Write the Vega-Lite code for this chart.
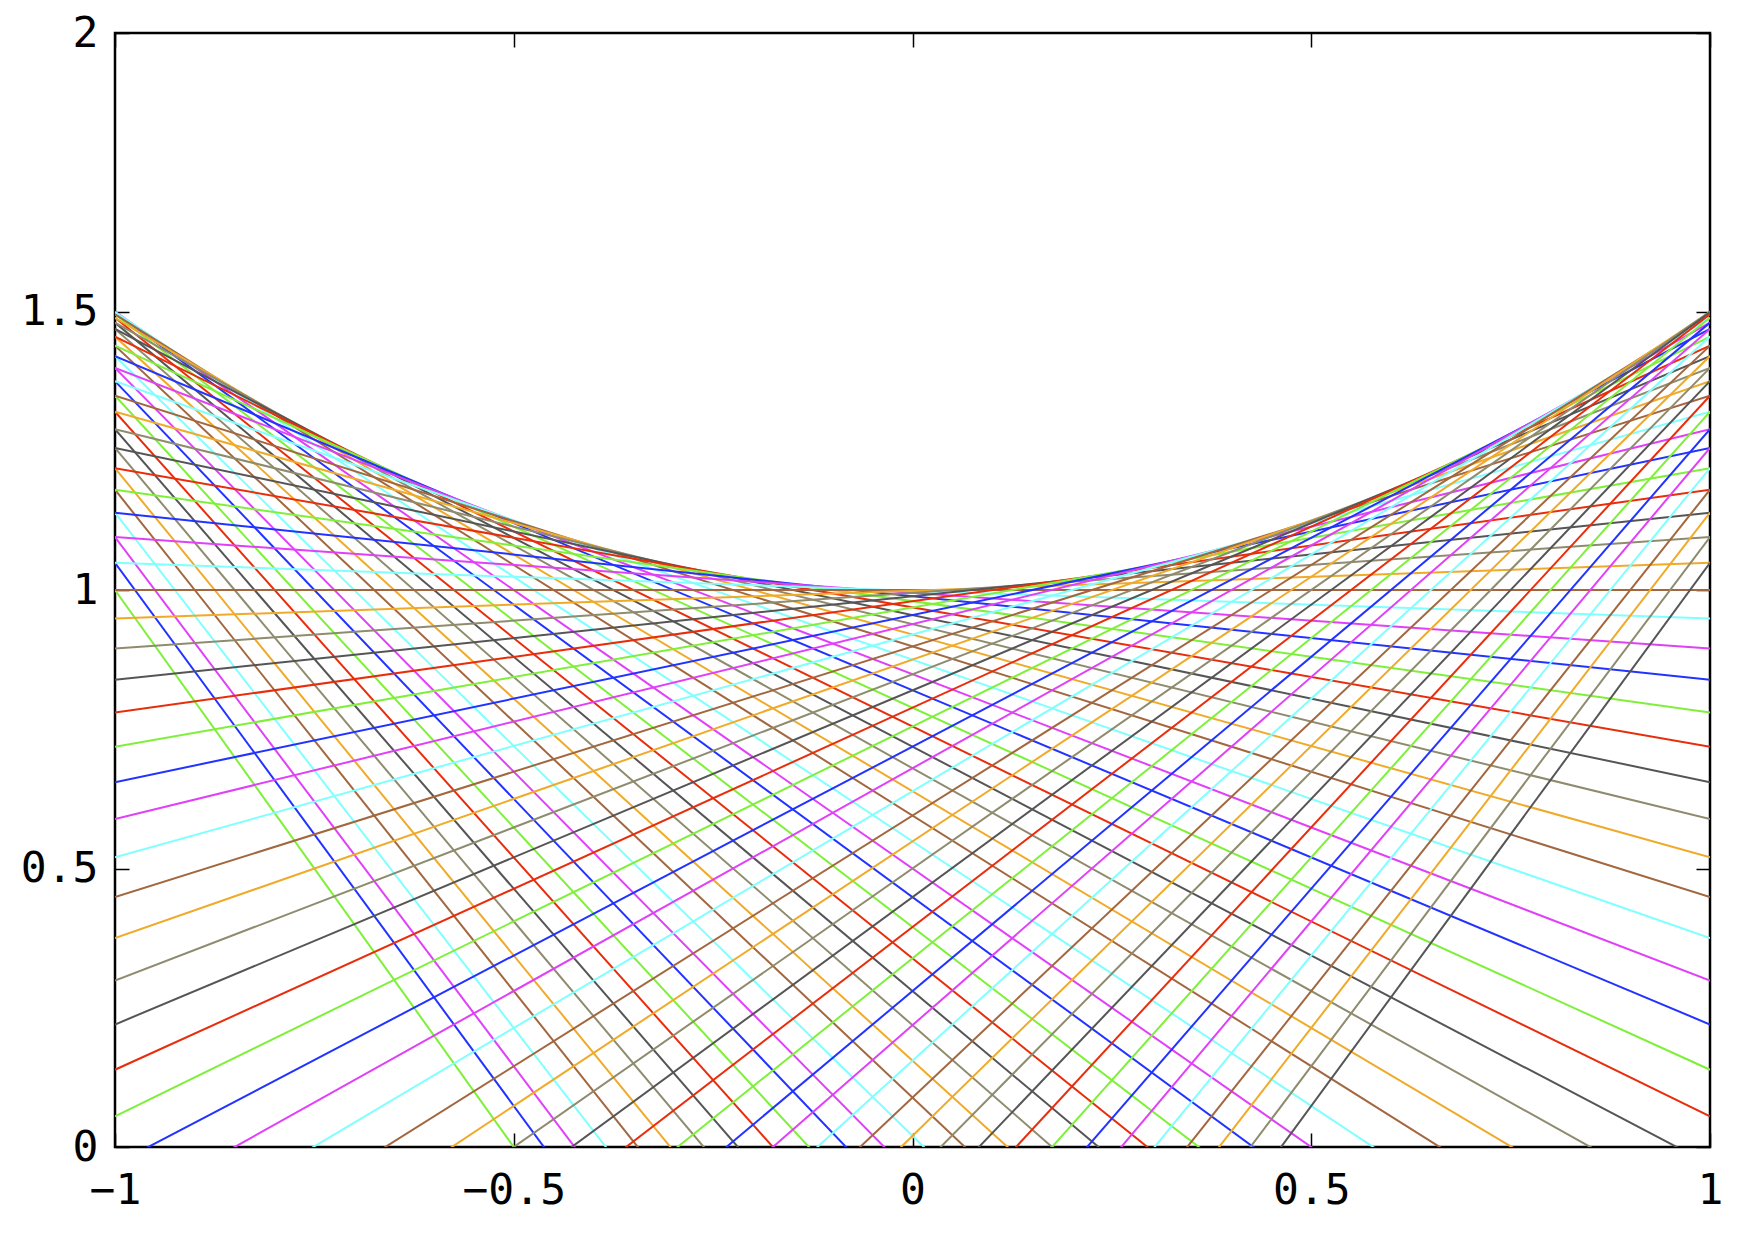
{
  "$schema": "https://vega.github.io/schema/vega-lite/v6.json",
  "width": 1595,
  "height": 1114,
  "autosize": {"type": "none"},
  "padding": {"left": 115, "top": 33, "right": 52, "bottom": 90},
  "background": "white",
  "config": {
    "view": {"stroke": "black", "strokeWidth": 2.5},
    "axis": {
      "domain": false,
      "grid": false,
      "ticks": true,
      "tickColor": "black",
      "tickWidth": 1.5,
      "tickSize": -14,
      "labelFont": "DejaVu Sans Mono",
      "labelFontSize": 43,
      "labelColor": "black",
      "labelFlush": false,
      "labelOverlap": false,
      "title": null
    }
  },
  "data": {
    "values": [
      {"a": -2.00, "yl": 1.0, "yr": -3.0},
      {"a": -1.95, "yl": 1.04875, "yr": -2.85125},
      {"a": -1.90, "yl": 1.095, "yr": -2.705},
      {"a": -1.85, "yl": 1.13875, "yr": -2.56125},
      {"a": -1.80, "yl": 1.18, "yr": -2.42},
      {"a": -1.75, "yl": 1.21875, "yr": -2.28125},
      {"a": -1.70, "yl": 1.255, "yr": -2.145},
      {"a": -1.65, "yl": 1.28875, "yr": -2.01125},
      {"a": -1.60, "yl": 1.32, "yr": -1.88},
      {"a": -1.55, "yl": 1.34875, "yr": -1.75125},
      {"a": -1.50, "yl": 1.375, "yr": -1.625},
      {"a": -1.45, "yl": 1.39875, "yr": -1.50125},
      {"a": -1.40, "yl": 1.42, "yr": -1.38},
      {"a": -1.35, "yl": 1.43875, "yr": -1.26125},
      {"a": -1.30, "yl": 1.455, "yr": -1.145},
      {"a": -1.25, "yl": 1.46875, "yr": -1.03125},
      {"a": -1.20, "yl": 1.48, "yr": -0.92},
      {"a": -1.15, "yl": 1.48875, "yr": -0.81125},
      {"a": -1.10, "yl": 1.495, "yr": -0.705},
      {"a": -1.05, "yl": 1.49875, "yr": -0.60125},
      {"a": -1.00, "yl": 1.5, "yr": -0.5},
      {"a": -0.95, "yl": 1.49875, "yr": -0.40125},
      {"a": -0.90, "yl": 1.495, "yr": -0.305},
      {"a": -0.85, "yl": 1.48875, "yr": -0.21125},
      {"a": -0.80, "yl": 1.48, "yr": -0.12},
      {"a": -0.75, "yl": 1.46875, "yr": -0.03125},
      {"a": -0.70, "yl": 1.455, "yr": 0.055},
      {"a": -0.65, "yl": 1.43875, "yr": 0.13875},
      {"a": -0.60, "yl": 1.42, "yr": 0.22},
      {"a": -0.55, "yl": 1.39875, "yr": 0.29875},
      {"a": -0.50, "yl": 1.375, "yr": 0.375},
      {"a": -0.45, "yl": 1.34875, "yr": 0.44875},
      {"a": -0.40, "yl": 1.32, "yr": 0.52},
      {"a": -0.35, "yl": 1.28875, "yr": 0.58875},
      {"a": -0.30, "yl": 1.255, "yr": 0.655},
      {"a": -0.25, "yl": 1.21875, "yr": 0.71875},
      {"a": -0.20, "yl": 1.18, "yr": 0.78},
      {"a": -0.15, "yl": 1.13875, "yr": 0.83875},
      {"a": -0.10, "yl": 1.095, "yr": 0.895},
      {"a": -0.05, "yl": 1.04875, "yr": 0.94875},
      {"a": 0.00, "yl": 1.0, "yr": 1.0},
      {"a": 0.05, "yl": 0.94875, "yr": 1.04875},
      {"a": 0.10, "yl": 0.895, "yr": 1.095},
      {"a": 0.15, "yl": 0.83875, "yr": 1.13875},
      {"a": 0.20, "yl": 0.78, "yr": 1.18},
      {"a": 0.25, "yl": 0.71875, "yr": 1.21875},
      {"a": 0.30, "yl": 0.655, "yr": 1.255},
      {"a": 0.35, "yl": 0.58875, "yr": 1.28875},
      {"a": 0.40, "yl": 0.52, "yr": 1.32},
      {"a": 0.45, "yl": 0.44875, "yr": 1.34875},
      {"a": 0.50, "yl": 0.375, "yr": 1.375},
      {"a": 0.55, "yl": 0.29875, "yr": 1.39875},
      {"a": 0.60, "yl": 0.22, "yr": 1.42},
      {"a": 0.65, "yl": 0.13875, "yr": 1.43875},
      {"a": 0.70, "yl": 0.055, "yr": 1.455},
      {"a": 0.75, "yl": -0.03125, "yr": 1.46875},
      {"a": 0.80, "yl": -0.12, "yr": 1.48},
      {"a": 0.85, "yl": -0.21125, "yr": 1.48875},
      {"a": 0.90, "yl": -0.305, "yr": 1.495},
      {"a": 0.95, "yl": -0.40125, "yr": 1.49875},
      {"a": 1.00, "yl": -0.5, "yr": 1.5},
      {"a": 1.05, "yl": -0.60125, "yr": 1.49875},
      {"a": 1.10, "yl": -0.705, "yr": 1.495},
      {"a": 1.15, "yl": -0.81125, "yr": 1.48875},
      {"a": 1.20, "yl": -0.92, "yr": 1.48},
      {"a": 1.25, "yl": -1.03125, "yr": 1.46875},
      {"a": 1.30, "yl": -1.145, "yr": 1.455},
      {"a": 1.35, "yl": -1.26125, "yr": 1.43875},
      {"a": 1.40, "yl": -1.38, "yr": 1.42},
      {"a": 1.45, "yl": -1.50125, "yr": 1.39875},
      {"a": 1.50, "yl": -1.625, "yr": 1.375},
      {"a": 1.55, "yl": -1.75125, "yr": 1.34875},
      {"a": 1.60, "yl": -1.88, "yr": 1.32},
      {"a": 1.65, "yl": -2.01125, "yr": 1.28875},
      {"a": 1.70, "yl": -2.145, "yr": 1.255},
      {"a": 1.75, "yl": -2.28125, "yr": 1.21875},
      {"a": 1.80, "yl": -2.42, "yr": 1.18},
      {"a": 1.85, "yl": -2.56125, "yr": 1.13875},
      {"a": 1.90, "yl": -2.705, "yr": 1.095},
      {"a": 1.95, "yl": -2.85125, "yr": 1.04875}
    ]
  },
  "layer": [
    {
      "mark": {"type": "rule", "clip": true, "strokeWidth": 2},
      "encoding": {
        "x": {"datum": -1, "type": "quantitative", "scale": {"domain": [-1, 1], "nice": false, "zero": false},
              "axis": {"orient": "bottom", "values": [-1, -0.5, 0, 0.5, 1], "format": "~g", "labelPadding": 36}},
        "x2": {"datum": 1},
        "y": {"field": "yl", "type": "quantitative", "scale": {"domain": [0, 2], "nice": false, "zero": false},
              "axis": {"orient": "left", "values": [0, 0.5, 1, 1.5, 2], "format": "~g", "labelPadding": 31}},
        "y2": {"field": "yr"},
        "color": {
          "field": "a",
          "type": "nominal",
          "legend": null,
          "scale": {
            "domain": [-2,-1.95,-1.9,-1.85,-1.8,-1.75,-1.7,-1.65,-1.6,-1.55,-1.5,-1.45,-1.4,-1.35,-1.3,-1.25,-1.2,-1.15,-1.1,-1.05,-1,-0.95,-0.9,-0.85,-0.8,-0.75,-0.7,-0.65,-0.6,-0.55,-0.5,-0.45,-0.4,-0.35,-0.3,-0.25,-0.2,-0.15,-0.1,-0.05,0,0.05,0.1,0.15,0.2,0.25,0.3,0.35,0.4,0.45,0.5,0.55,0.6,0.65,0.7,0.75,0.8,0.85,0.9,0.95,1,1.05,1.1,1.15,1.2,1.25,1.3,1.35,1.4,1.45,1.5,1.55,1.6,1.65,1.7,1.75,1.8,1.85,1.9,1.95],
            "range": ["#7ff03a", "#2233ff", "#e040f8", "#80ffff", "#a2673f", "#f0aa2a", "#8f8b6e", "#555555", "#e82d0c"]
          }
        }
      }
    },
    {
      "mark": {"type": "rule", "opacity": 0},
      "encoding": {
        "x": {"datum": -1, "type": "quantitative",
              "axis": {"orient": "top", "values": [-1, -0.5, 0, 0.5, 1], "labels": false}},
        "x2": {"datum": 1},
        "y": {"field": "yl", "type": "quantitative",
              "axis": {"orient": "right", "values": [0, 0.5, 1, 1.5, 2], "labels": false}},
        "y2": {"field": "yr"}
      }
    }
  ],
  "resolve": {"axis": {"x": "independent", "y": "independent"}}
}
